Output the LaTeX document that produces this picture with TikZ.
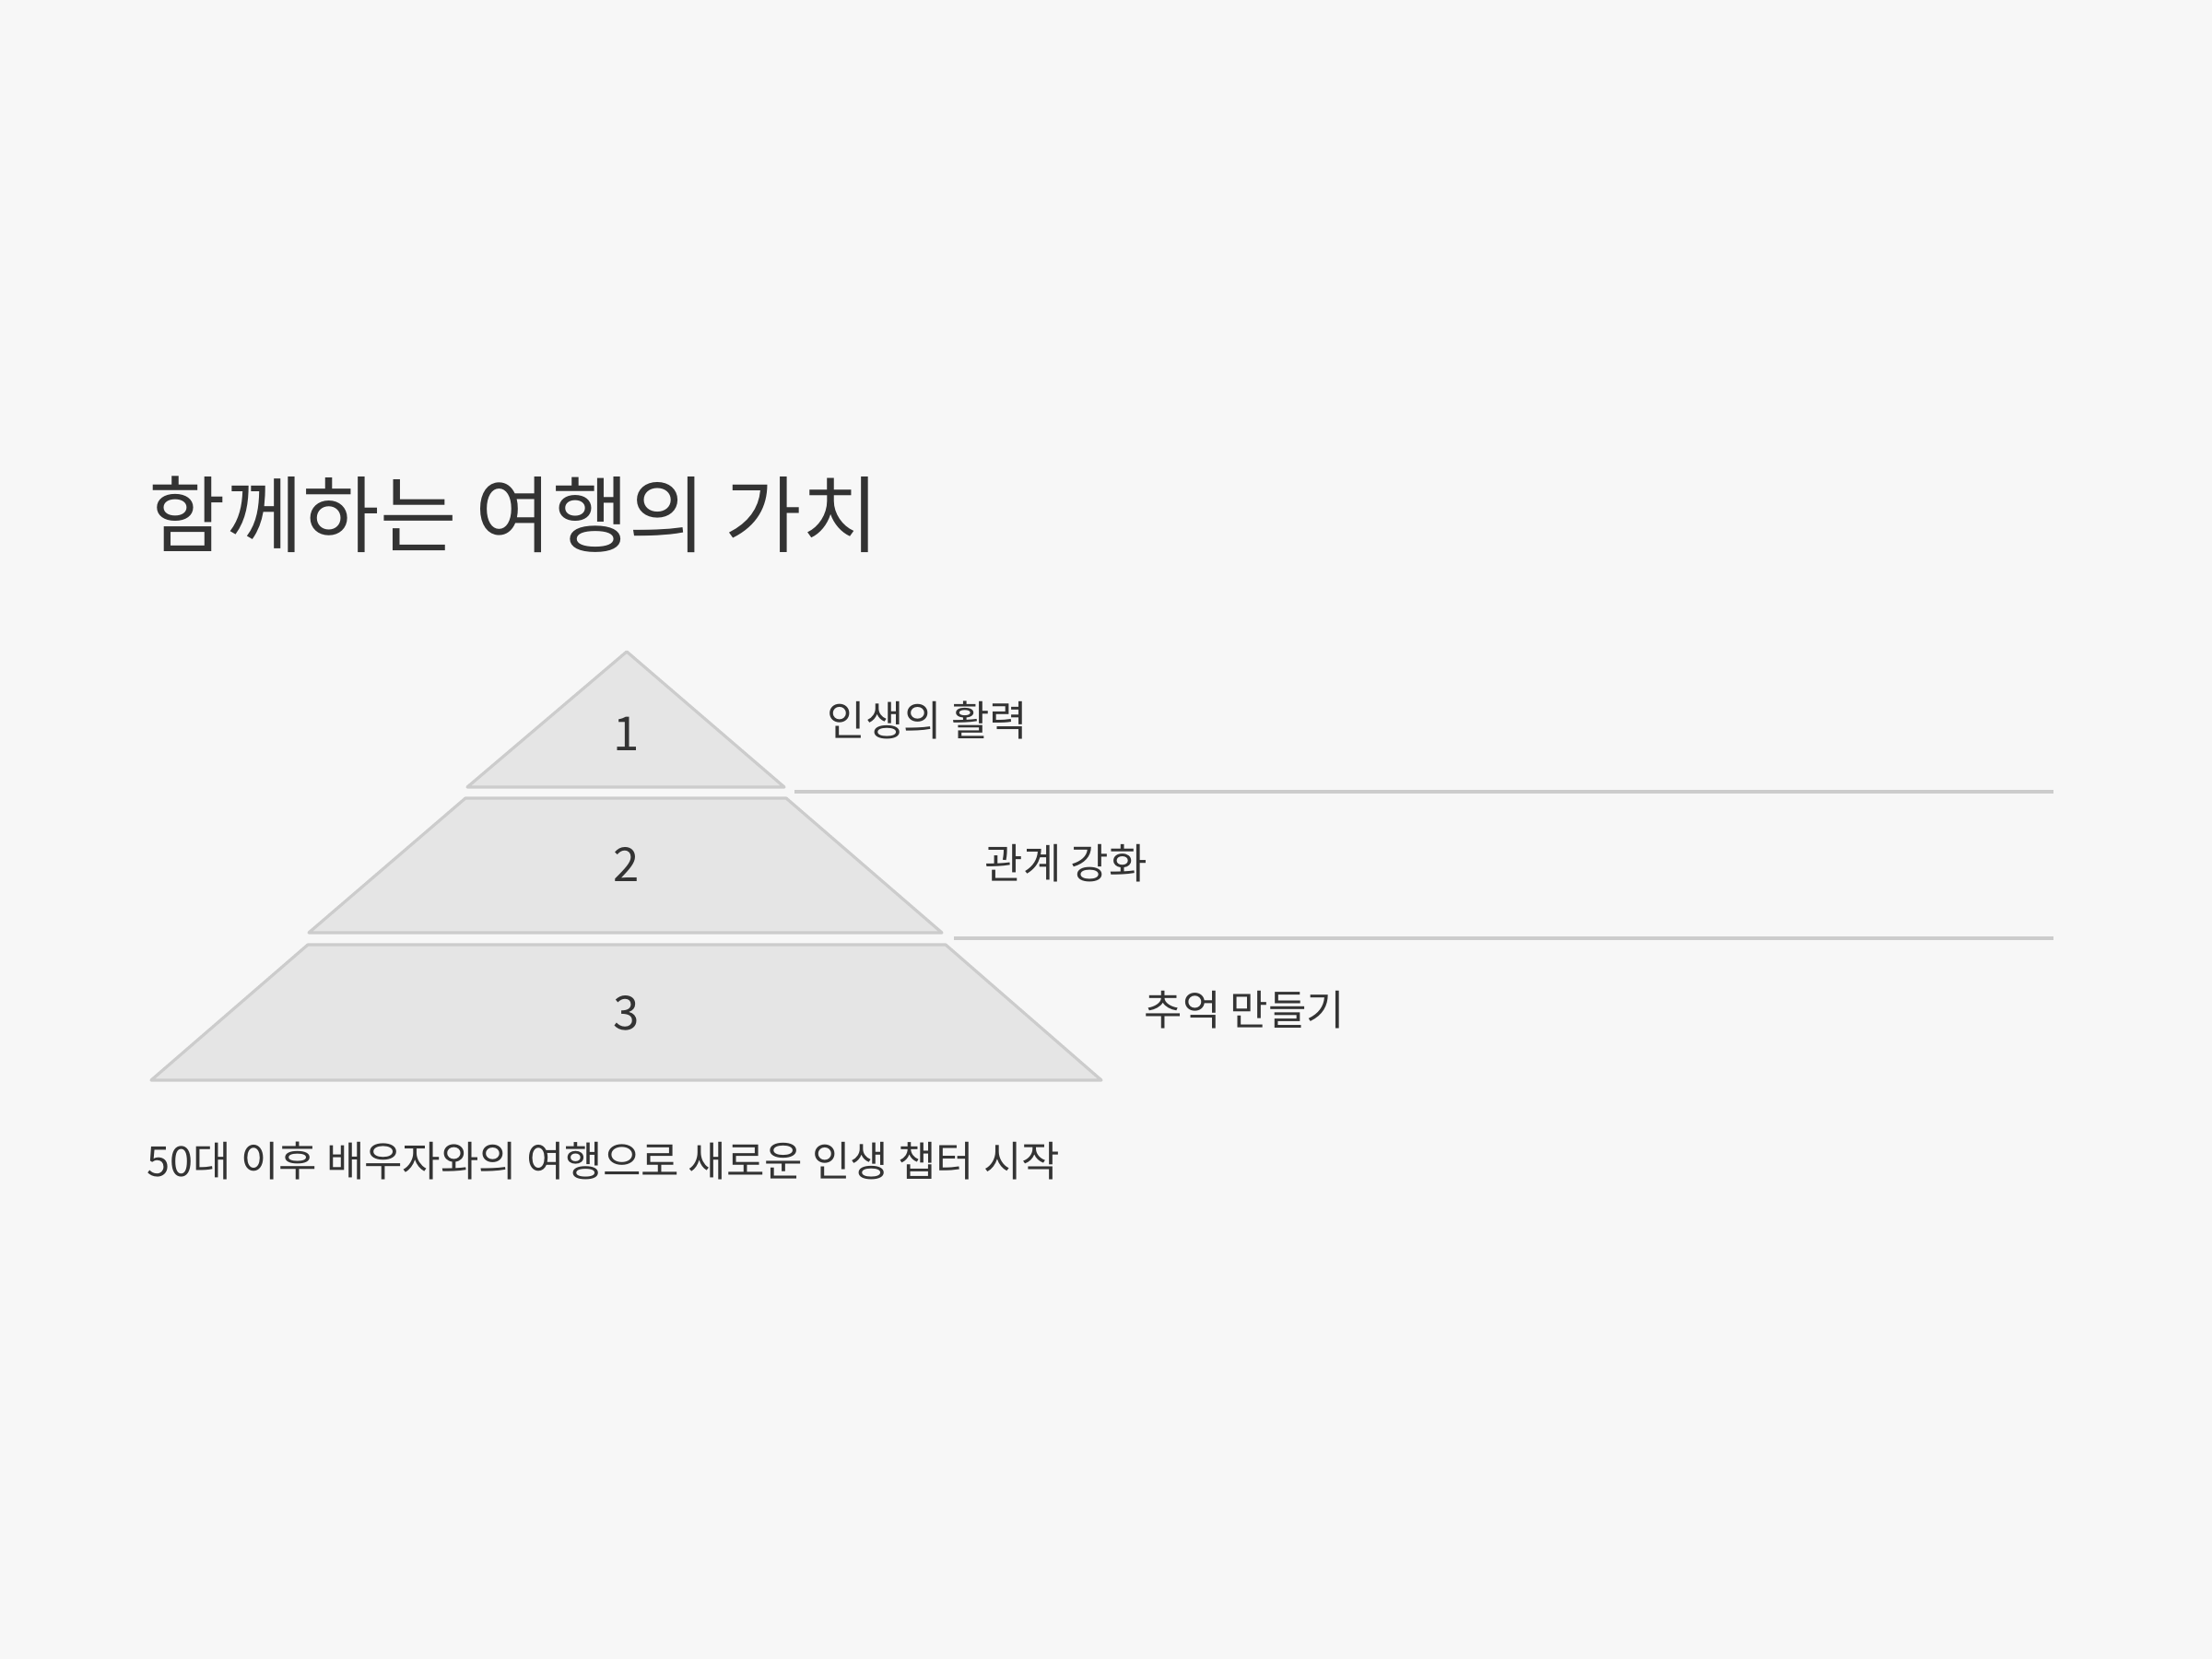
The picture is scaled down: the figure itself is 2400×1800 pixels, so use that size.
\documentclass[tikz,border=0pt]{standalone}
\usepackage{fontspec}
\newfontfamily\krfont{Noto Sans CJK KR}
\usetikzlibrary{positioning}
\definecolor{bgcol}{HTML}{F7F7F7}
\definecolor{tiercol}{HTML}{E5E5E5}
\definecolor{edgecol}{HTML}{CCCCCC}
\definecolor{inkcol}{HTML}{333333}

\begin{document}
\begin{tikzpicture}[x=0.01cm, y=-0.01cm, text=inkcol]
                \tikzset{tier/.style={draw=edgecol, fill=tiercol, line width=0.9pt, line join=round},
                         rule/.style={draw=edgecol, line width=0.9pt},
                         num/.style={inner sep=0, font=\krfont\fontsize{14.5}{16}\selectfont},
                         lbl/.style={anchor=west, inner sep=0, font=\krfont\fontsize{12.8}{15}\selectfont}}
                \fill[bgcol] (0,0) rectangle (2400,1800);
                \node[anchor=west, inner sep=0, font=\krfont\fontsize{25.8}{30}\selectfont] (title) at (161,558) {함께하는 여행의 가치};
                % pyramid
                \draw[tier] (680,707) -- (851,854) -- (507,854) -- cycle;
                \draw[tier] (505,866) -- (853,866) -- (1022,1012) -- (335,1012) -- cycle;
                \draw[tier] (334,1025) -- (1026,1025) -- (1195,1172) -- (164,1172) -- cycle;
                \node[num] (n1) at (680,796) {1};
                \node[num] (n2) at (680,938) {2};
                \node[num] (n3) at (680,1099) {3};
                \node[lbl] (l1) at (897,781) {인생의 활력};
                \node[lbl] (l2) at (1068,937) {관계 강화};
                \node[lbl] (l3) at (1241,1096) {추억 만들기};
                \coordinate (r1a) at (862,859);
                \coordinate (r1b) at (2228,859);
                \coordinate (r2a) at (1035,1018);
                \coordinate (r2b) at (2228,1018);
                \path[rule] (r1a) -- (r1b) (r2a) -- (r2b);
                \node[lbl] (foot) at (159,1260) {50대 이후 배우자와의 여행으로 새로운 인생 챕터 시작};
            \end{tikzpicture}
\end{document}
